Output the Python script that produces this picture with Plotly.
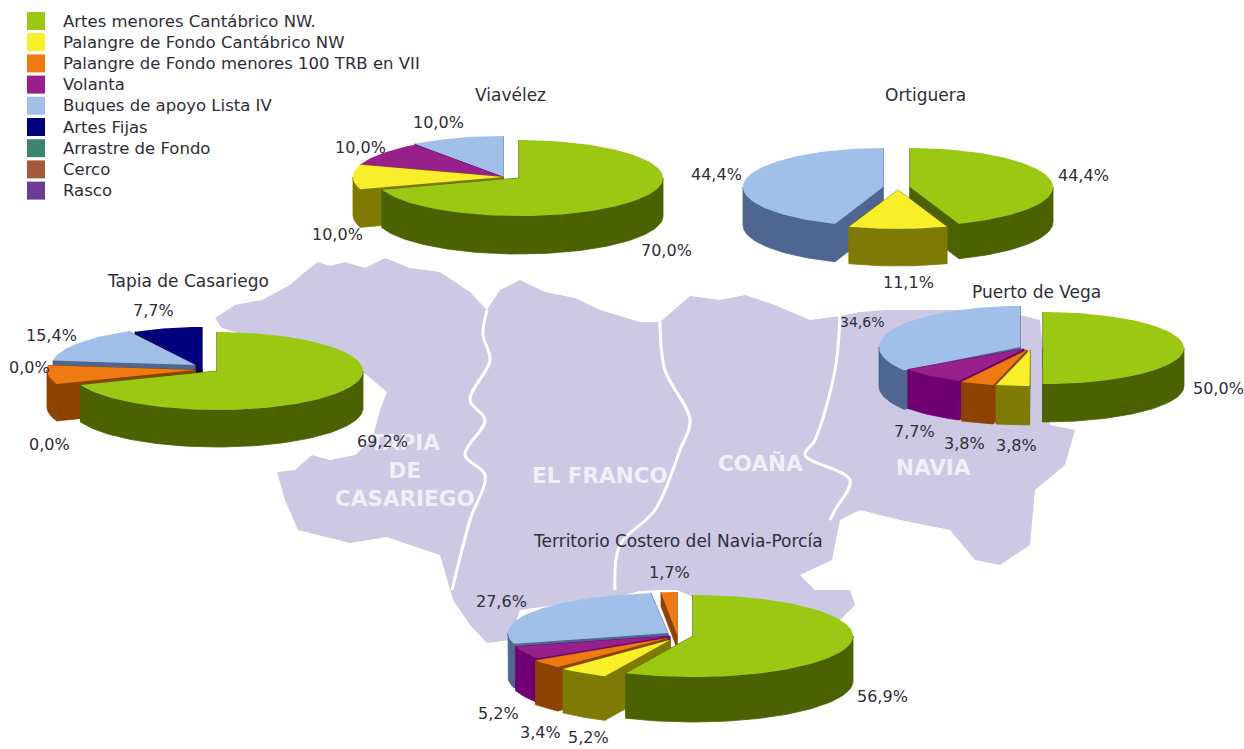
import math
import plotly.graph_objects as go

# ---------- data ----------
categories = ["Artes menores Cantábrico NW.", "Palangre de Fondo Cantábrico NW",
              "Palangre de Fondo menores 100 TRB en VII", "Volanta", "Buques de apoyo Lista IV",
              "Artes Fijas", "Arrastre de Fondo", "Cerco", "Rasco"]

viavelez_cats = [0, 1, 3, 4]
viavelez_vals = [70.0, 10.0, 10.0, 10.0]
ortiguera_cats = [0, 1, 4]
ortiguera_vals = [44.4, 11.1, 44.4]
vega_cats = [0, 1, 2, 3, 4]
vega_vals = [50.0, 3.8, 3.8, 7.7, 34.6]
tapia_cats = [0, 2, 4, 5]
tapia_vals = [69.2, 7.7, 15.4, 7.7]
territorio_cats = [0, 1, 2, 3, 4, 2]
territorio_vals = [56.9, 5.2, 3.4, 5.2, 27.6, 1.7]

# ---------- style ----------
top_col = ["#9bc813", "#f8ee2a", "#f07a12", "#98208a", "#a0c0ea", "#00007c", "#3e8272", "#a5583a", "#6e3a98"]
dark_col = ["#4c6200", "#7f7a04", "#8c4300", "#700072", "#4e6690", "#00004c", "#2a5a50", "#70381f", "#4a2470"]
MAP_COL = "#cdc8e4"
TXT = "#2e2e38"
FONT = "DejaVu Sans"

# per-slice apex x, apex y, rx, ry, depth
viavelez_geo = [(519, 178, 144, 38, 38), (503, 177, 150, 40, 38), (503, 177, 150, 40, 38), (503, 177, 150, 41, 38)]
ortiguera_geo = [(910, 187, 143, 39, 35), (898, 190, 143, 39, 37), (883, 187, 140, 39, 38)]
vega_geo = [(1043, 348, 141, 36, 38), (1030, 350, 141, 36, 39), (1027, 350, 141, 36, 39),
            (1024, 349, 141, 36, 39), (1020, 347, 141, 41, 39)]
tapia_geo = [(217, 371, 146, 39, 37), (195, 370, 148, 39, 37), (195, 365, 143, 38, 37), (202, 369, 144, 42, 37)]
terr_geo = [(693, 636, 160, 41, 45), (670, 640, 155, 40, 44), (668, 638, 160, 40, 44),
            (670, 636, 160, 40, 44), (668, 633, 160, 40, 44), (677, 634, 150, 42, 14)]

map_outline = [(215, 318), (235, 305), (262, 300), (290, 285), (305, 272), (318, 262), (330, 266), (345, 262), (365, 268),
               (385, 258), (410, 268), (440, 272), (470, 292), (487, 310), (500, 290), (520, 280), (545, 292),
               (575, 298), (600, 310), (640, 322), (660, 322), (690, 296), (720, 300), (745, 295), (775, 305),
               (810, 320), (840, 316), (860, 312), (885, 310), (1000, 310), (1040, 320), (1050, 425), (1075, 430),
               (1065, 465), (1035, 490), (1030, 545), (1000, 565), (975, 560), (950, 530), (900, 520), (860, 510),
               (840, 520), (832, 560), (800, 575), (815, 590), (850, 590), (855, 605), (830, 630), (693, 640),
               (693, 597), (677, 590), (660, 590), (640, 591), (620, 596), (520, 610), (510, 640), (487, 643),
               (470, 625), (453, 600), (450, 590), (440, 555), (410, 545), (387, 537), (350, 543), (298, 530),
               (285, 500), (277, 472), (295, 470), (312, 455), (330, 460), (355, 455), (372, 440), (380, 410),
               (387, 392), (363, 372), (222, 328)]
rivers = [
    [(487, 310), (483, 335), (490, 360), (470, 400), (485, 420), (465, 455), (485, 475), (470, 520), (452, 590)],
    [(660, 322), (665, 370), (690, 420), (680, 450), (655, 510), (620, 545), (615, 590)],
    [(840, 316), (835, 370), (815, 440), (805, 455), (850, 480), (835, 510), (830, 520)],
]
map_labels = [("TAPIA<br>DE<br>CASARIEGO", 405, 470), ("EL FRANCO", 600, 475), ("COAÑA", 760, 463), ("NAVIA", 933, 467)]

# title, title position, cats, vals, slice geometry, label positions (x, y, font size), slice drawn last
pies = [
    ("Viavélez", (510, 95), viavelez_cats, viavelez_vals, viavelez_geo,
     [(666, 250, 16), (337, 234, 16), (360, 147, 16), (438, 122, 16)], 0),
    ("Ortiguera", (925, 95), ortiguera_cats, ortiguera_vals, ortiguera_geo,
     [(1083, 175, 16), (908, 282, 16), (716, 174, 16)], 1),
    ("Puerto de Vega", (1036, 292), vega_cats, vega_vals, vega_geo,
     [(1218, 388, 16), (1016, 445, 16), (964, 443, 16), (914, 431, 16), (862, 322, 14)], 0),
    ("Tapia de Casariego", (188, 281), tapia_cats, tapia_vals, tapia_geo,
     [(382, 441, 16), None, (51, 335, 16), (153, 310, 16)], 0),
    ("Territorio Costero del Navia-Porcía", (678, 541), territorio_cats, territorio_vals, terr_geo,
     [(882, 696, 16), (588, 737, 16), (540, 732, 16), (498, 713, 16), (501, 601, 16), (669, 572, 16)], 0),
]
extra_labels = [("0,0%", 29, 367), ("0,0%", 49, 444)]

legend_x, legend_y0, legend_dy = 36, 21, 21.2

fig = go.Figure()

# map
fig.add_trace(go.Scatter(x=[p[0] for p in map_outline] + [map_outline[0][0]],
                         y=[p[1] for p in map_outline] + [map_outline[0][1]],
                         fill="toself", fillcolor=MAP_COL, mode="lines", line=dict(width=0), hoverinfo="skip"))
for r in rivers:
    fig.add_trace(go.Scatter(x=[p[0] for p in r], y=[p[1] for p in r], mode="lines",
                             line=dict(color="white", width=3, shape="spline"), hoverinfo="skip"))


def pt(g, a, drop=0):
    cx, cy, rx, ry, _ = g
    t = math.radians(a)
    return cx + rx * math.sin(t), cy - ry * math.cos(t) + drop


def arc(g, a0, a1, drop=0):
    n = max(2, int(abs(a1 - a0) / 2) + 2)
    return [pt(g, a0 + (a1 - a0) * i / (n - 1), drop) for i in range(n)]


def poly_trace(poly, color, seam=0):
    fig.add_trace(go.Scatter(x=[p[0] for p in poly] + [poly[0][0]], y=[p[1] for p in poly] + [poly[0][1]],
                             fill="toself", fillcolor=color, mode="lines",
                             line=dict(width=seam, color=color), hoverinfo="skip"))


def draw_pie(cats, vals, geo, last):
    tot = sum(vals)
    a = 0.0
    items = []
    for i, (c, v, g) in enumerate(zip(cats, vals, geo)):
        b = a + v / tot * 360
        key = -9 if i == last else math.cos(math.radians((a + b) / 2))
        items.append((key, c, a, b, g))
        a = b
    items.sort(key=lambda it: -it[0])
    for _, c, a0, a1, g in items:
        cx, cy, rx, ry, d = g
        lo, hi = max(a0, 90), min(a1, 270)
        for ang in (a0, a1):
            e = pt(g, ang)
            poly_trace([(cx, cy), e, (e[0], e[1] + d), (cx, cy + d)], dark_col[c], 0.8)
        if hi > lo:
            poly_trace(arc(g, lo, hi) + arc(g, lo, hi, d)[::-1], dark_col[c], 0.8)
        poly_trace([(cx, cy)] + arc(g, a0, a1), top_col[c])


anns = []


def label(text, x, y, size=16, color=TXT, bold=False):
    anns.append(dict(x=x, y=y, text=f"<b>{text}</b>" if bold else text, showarrow=False, xref="x", yref="y",
                     xanchor="center", yanchor="middle", font=dict(family=FONT, size=size, color=color)))


for text, x, y in map_labels:
    label(text, x, y, size=21.5, color="#f1eff8", bold=True)

for title, tpos, cats, vals, geo, lpos, last in pies:
    draw_pie(cats, vals, geo, last)
    label(title, *tpos, size=17)
    for v, p in zip(vals, lpos):
        if p:
            label(f"{v:.1f}".replace(".", ",") + "%", p[0], p[1], size=p[2])
for text, x, y in extra_labels:
    label(text, x, y)

# legend
ly = [legend_y0 + i * legend_dy for i in range(len(categories))]
fig.add_trace(go.Scatter(x=[legend_x] * len(categories), y=ly, mode="markers",
                         marker=dict(symbol="square", size=18, color=top_col, line=dict(width=0)), hoverinfo="skip"))
for c, y in zip(categories, ly):
    anns.append(dict(x=61, y=y, text=c, showarrow=False, xref="x", yref="y", xanchor="left", yanchor="middle",
                     font=dict(family=FONT, size=16.5, color=TXT)))

fig.update_layout(width=1244, height=749, margin=dict(l=0, r=0, t=0, b=0), showlegend=False,
                  paper_bgcolor="white", plot_bgcolor="white", annotations=anns,
                  xaxis=dict(range=[0, 1244], visible=False, fixedrange=True),
                  yaxis=dict(range=[749, 0], visible=False, fixedrange=True))
fig.write_html("out.html", config=dict(displayModeBar=False),
               post_script="document.body.style.margin='0';")
